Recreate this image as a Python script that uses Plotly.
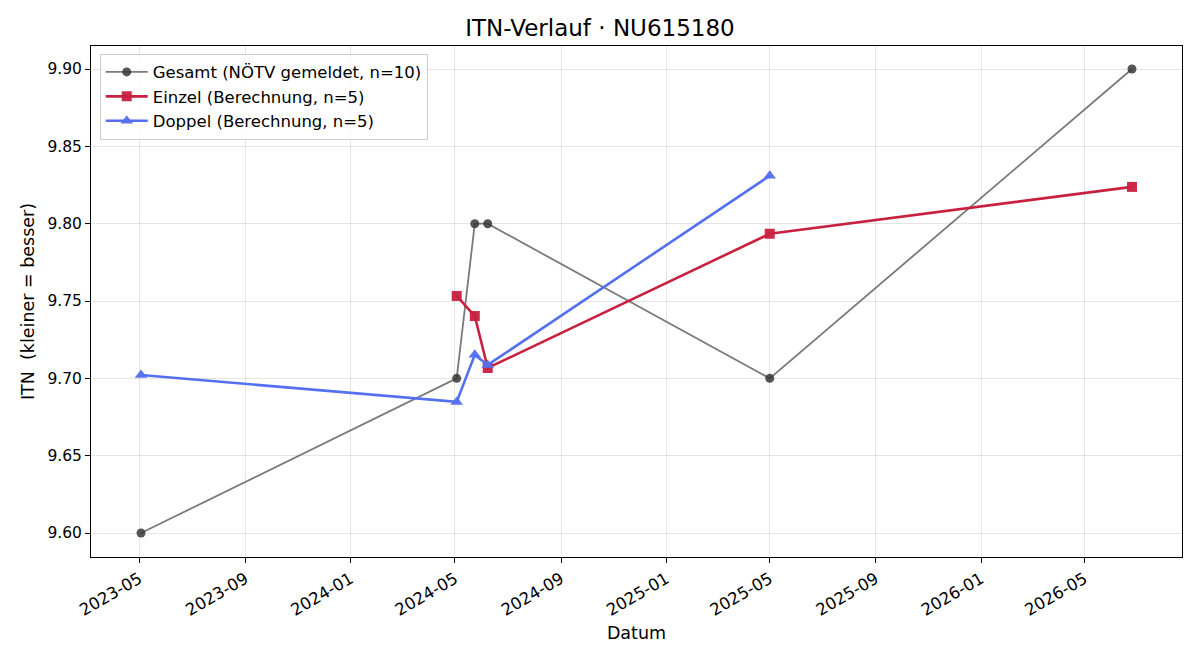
import plotly.graph_objects as go

# Data
gesamt_dates = ["2023-05-03", "2024-05-03", "2024-05-24", "2024-06-08", "2025-05-01", "2026-06-25"]
gesamt_vals = [9.60, 9.70, 9.80, 9.80, 9.70, 9.90]

einzel_dates = ["2024-05-03", "2024-05-24", "2024-06-08", "2025-05-01", "2026-06-25"]
einzel_vals = [9.7533, 9.7403, 9.7067, 9.7935, 9.8238]

doppel_dates = ["2023-05-03", "2024-05-03", "2024-05-24", "2024-06-08", "2025-05-01"]
doppel_vals = [9.7022, 9.6848, 9.7152, 9.7087, 9.8310]

y_ticks = [9.60, 9.65, 9.70, 9.75, 9.80, 9.85, 9.90]

FONT = "DejaVu Sans"

fig = go.Figure()
fig.add_trace(go.Scatter(
    x=gesamt_dates, y=gesamt_vals, mode="lines+markers",
    name="Gesamt (NÖTV gemeldet, n=10)",
    line=dict(color="rgba(85,85,85,0.78)", width=1.8),
    marker=dict(symbol="circle", size=9, color="rgba(55,55,55,0.85)"),
))
fig.add_trace(go.Scatter(
    x=einzel_dates, y=einzel_vals, mode="lines+markers",
    name="Einzel (Berechnung, n=5)",
    line=dict(color="#c8203e", width=2.6),
    marker=dict(symbol="square", size=10, color="rgba(200,32,62,0.95)"),
))
fig.add_trace(go.Scatter(
    x=doppel_dates, y=doppel_vals, mode="lines+markers",
    name="Doppel (Berechnung, n=5)",
    line=dict(color="#5470f0", width=2.6),
    marker=dict(symbol="triangle-up", size=11, color="rgba(84,112,240,0.95)"),
))

fig.update_layout(
    width=1200, height=660,
    margin=dict(l=91, r=18, t=46, b=103),
    paper_bgcolor="white", plot_bgcolor="white",
    font=dict(family=FONT, size=15.5, color="black"),
    title=dict(text="ITN-Verlauf · NU615180", x=0.5, xanchor="center",
               y=1 - 28 / 660, yanchor="middle", font=dict(size=23, family=FONT)),
    showlegend=True,
    legend=dict(x=0.008, y=0.985, xanchor="left", yanchor="top",
                bordercolor="#cccccc", borderwidth=1, bgcolor="rgba(255,255,255,0.85)",
                font=dict(size=16.5, family=FONT), itemwidth=42),
    xaxis=dict(
        type="date", range=["2023-03-06", "2026-08-22"],
        tick0="2023-01-01", dtick="M4", tickformat="%Y-%m",
        tickangle=-30, ticks="outside", ticklen=5, tickcolor="black",
        showline=True, linecolor="black", linewidth=1, mirror=True,
        showgrid=True, gridcolor="rgba(0,0,0,0.1)", gridwidth=1,
        zeroline=False,
        title=dict(text="Datum", font=dict(size=17.5, family=FONT), standoff=8),
        tickfont=dict(size=16.5, family=FONT),
    ),
    yaxis=dict(
        range=[9.5845, 9.9149],
        tickvals=y_ticks, ticktext=[f"{v:.2f}" for v in y_ticks],
        ticks="outside", ticklen=5, tickcolor="black",
        showline=True, linecolor="black", linewidth=1, mirror=True,
        showgrid=True, gridcolor="rgba(0,0,0,0.1)", gridwidth=1,
        zeroline=False,
        title=dict(text="ITN  (kleiner = besser)", font=dict(size=17.5, family=FONT), standoff=8),
        tickfont=dict(size=15.5, family=FONT),
    ),
)

fig.write_html("out.html")
